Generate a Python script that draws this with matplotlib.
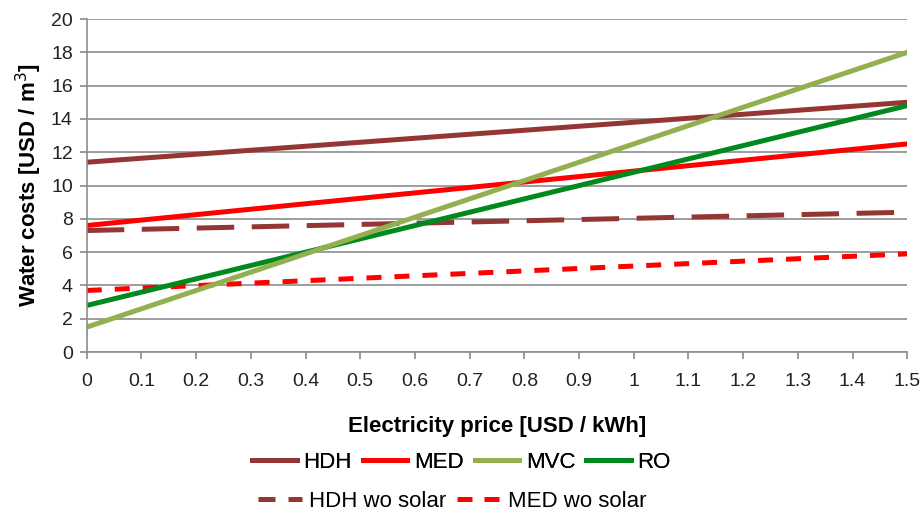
import matplotlib
matplotlib.use('Agg')
import matplotlib.pyplot as plt
from matplotlib.lines import Line2D

plt.rcParams['font.family'] = ['Liberation Sans', 'DejaVu Sans']

# Strompreis (Endpunkte, Linien sind linear)
price = [0.0, 1.5]

hdh = [11.4, 15.0]
med = [7.6, 12.5]
mvc = [1.5, 18.0]
ro = [2.8, 14.8]
hdh_wo = [7.3, 8.4]
med_wo = [3.7, 5.9]

x_ticks = [round(i * 0.1, 1) for i in range(16)]
x_labels = ['0'] + [f'{v:g}' for v in x_ticks[1:]]
y_ticks = list(range(0, 21, 2))

c_hdh = '#943634'
c_med = '#ff0000'
c_mvc = '#92b050'
c_ro = '#008a1e'

fig = plt.figure(figsize=(9.23, 5.14), dpi=100)
ax = fig.add_axes([0.094, 0.315, 0.889, 0.648])

lw = 3.6
ax.plot(price, hdh_wo, color=c_hdh, lw=lw, dashes=(7.5, 3.5))
ax.plot(price, med_wo, color=c_med, lw=lw, dashes=(3.0, 2.6))
ax.plot(price, med, color=c_med, lw=lw)
ax.plot(price, hdh, color=c_hdh, lw=lw)
ax.plot(price, ro, color=c_ro, lw=lw)
ax.plot(price, mvc, color=c_mvc, lw=lw)

ax.set_xlim(0, 1.5)
ax.set_ylim(0, 20)
ax.set_xticks(x_ticks)
ax.set_xticklabels(x_labels)
ax.set_yticks(y_ticks)
ax.tick_params(labelsize=14, length=5, width=1.2, colors='#888888', labelcolor='#222222')
ax.tick_params(axis='x', pad=10)
ax.tick_params(axis='y', pad=5)
ax.yaxis.grid(True, color='#8c8c8c', lw=1.2)
ax.set_axisbelow(True)
for s in ['top', 'right']:
    ax.spines[s].set_visible(False)
for s in ['left', 'bottom']:
    ax.spines[s].set_color('#8c8c8c')
    ax.spines[s].set_linewidth(1.2)

ax.set_xlabel('Electricity price [USD / kWh]', fontsize=16, fontweight='bold', labelpad=19)
ax.set_ylabel('Water costs [USD / m$^3$]', fontsize=16, fontweight='bold', labelpad=5)

h1 = [Line2D([], [], color=c, lw=lw) for c in [c_hdh, c_med, c_mvc, c_ro]]
leg1 = fig.legend(h1, ['HDH', 'MED', 'MVC', 'RO'], loc='center', bbox_to_anchor=(0.5, 0.10),
                  ncol=4, frameon=False, fontsize=16, handlelength=2.0, handletextpad=0.3,
                  columnspacing=0.5)
h2 = [Line2D([], [], color=c_hdh, lw=lw, dashes=(3.4, 2.6)),
      Line2D([], [], color=c_med, lw=lw, dashes=(3.0, 2.4))]
leg2 = fig.legend(h2, ['HDH wo solar', 'MED wo solar'], loc='center', bbox_to_anchor=(0.49, 0.025),
                  ncol=2, frameon=False, fontsize=16, handlelength=2.0, handletextpad=0.3,
                  columnspacing=0.5)
fig.add_artist(leg1)

fig.savefig('out.png', dpi=100)
